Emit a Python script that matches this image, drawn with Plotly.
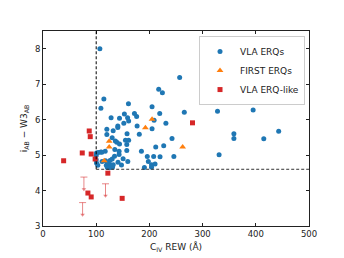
import plotly.graph_objects as go

# VLA ERQs
vla_x = [106.9, 108.8, 114.4, 256.9, 217.5, 224.4, 310, 328, 395, 160.6, 205, 128, 143.8, 153, 171.9,
         176, 159, 161, 151.9, 219.4, 208.8, 231, 265.6, 140.6, 140.6, 176.9, 120, 131.9, 120, 158,
         181, 205, 130, 136, 138.8, 143.8, 155, 161, 157.5, 242.5, 358.8, 358.8, 415, 443, 226.9,
         211.9, 135, 143, 157.5, 116.9, 100.6, 104, 108.8, 110.6, 185, 331, 143, 134.4, 150.6, 159.4,
         141, 147.5, 196, 208, 220, 246, 198, 190.6, 204, 210.6, 204, 100, 100, 100.6, 103, 111,
         117.5, 119, 123, 126, 128, 130.6, 121, 125, 132, 130]
vla_y = [8.0, 6.32, 6.58, 7.19, 6.86, 6.76, 6.78, 6.24, 6.27, 6.45, 6.36, 6.05, 6.04, 6.16, 6.17,
         6.09, 6.05, 5.96, 5.90, 6.17, 5.98, 5.90, 6.21, 5.82, 5.78, 5.82, 5.73, 5.69, 5.58, 5.60,
         5.59, 5.74, 5.49, 5.40, 5.36, 5.31, 5.42, 5.42, 5.30, 5.47, 5.60, 5.47, 5.46, 5.67, 5.26,
         5.23, 5.16, 5.11, 5.13, 5.11, 5.06, 5.07, 5.09, 5.08, 5.11, 5.01, 5.02, 4.97, 4.90, 4.82,
         4.80, 4.72, 4.96, 4.96, 4.95, 4.96, 4.82, 4.65, 4.73, 4.75, 4.66, 4.99, 4.87, 4.78, 4.71, 4.82,
         4.84, 4.71, 4.76, 4.85, 4.71, 4.66, 4.65, 4.64, 4.73, 4.89]

# FIRST ERQs
first_x = [300.6, 205, 192.5, 124.4, 124.4, 262.5, 115]
first_y = [6.73, 6.01, 5.77, 5.39, 5.23, 5.23, 4.84]

# VLA ERQ-like
like_x = [38.8, 73.8, 86.9, 88.8, 90.6, 98, 121.9, 281, 84.4, 90.6, 148.8]
like_y = [4.84, 5.06, 5.68, 5.52, 5.03, 4.89, 4.49, 5.91, 3.93, 3.82, 3.78]

# VLA ERQ-like upper limits
lim_x = [76.9, 117.5, 74.4]
lim_y = [4.38, 4.19, 3.66]
ARROW = 0.34

# selection thresholds
REW_CUT = 100
COLOR_CUT = 4.6

BLUE = "#1f77b4"
ORANGE = "#ff7f0e"
RED = "#d62728"
LIMC = "rgba(214,39,40,0.55)"

fig = go.Figure()

fig.add_trace(go.Scatter(
    x=lim_x, y=lim_y, mode="markers", showlegend=False,
    marker=dict(symbol="line-ew", size=5, color=LIMC, line=dict(color=LIMC, width=1)),
    error_y=dict(type="data", symmetric=False, array=[0] * len(lim_y),
                 arrayminus=[ARROW] * len(lim_y), color=LIMC, thickness=1, width=0)))
fig.add_trace(go.Scatter(
    x=lim_x, y=[v - ARROW for v in lim_y], mode="markers", showlegend=False,
    marker=dict(symbol="triangle-down", size=4, color=LIMC)))

fig.add_trace(go.Scatter(x=vla_x, y=vla_y, mode="markers", name="VLA ERQs",
                         marker=dict(symbol="circle", size=5, color=BLUE)))
fig.add_trace(go.Scatter(x=first_x, y=first_y, mode="markers", name="FIRST ERQs",
                         marker=dict(symbol="triangle-up", size=6, color=ORANGE)))
fig.add_trace(go.Scatter(x=like_x, y=like_y, mode="markers", name="VLA ERQ-like",
                         marker=dict(symbol="square", size=5, color=RED)))

fig.add_shape(type="line", xref="x", yref="y", x0=REW_CUT, x1=REW_CUT, y0=COLOR_CUT, y1=8.5,
              line=dict(color="black", width=1, dash="3px,2px"))
fig.add_shape(type="line", xref="x", yref="y", x0=REW_CUT, x1=500, y0=COLOR_CUT, y1=COLOR_CUT,
              line=dict(color="#333", width=1, dash="3px,2px"))

axis_common = dict(showgrid=False, zeroline=False, showline=True, linecolor="#222", linewidth=1,
                   mirror="ticks", ticks="inside", ticklen=3, tickcolor="#222", automargin=False,
                   tickfont=dict(family="DejaVu Sans", size=8.5, color="#222"))

# page body has an 8px margin; figure size/margins compensate so the plot area
# lands at the same window position as the reference
fig.update_layout(
    width=336, height=250,
    margin=dict(l=35, r=35, t=23, b=32),
    paper_bgcolor="white", plot_bgcolor="white",
    font=dict(family="DejaVu Sans", size=9, color="#222"),
    xaxis=dict(range=[0, 500], tickvals=[0, 100, 200, 300, 400, 500],
               title=dict(text="C<sub>IV</sub> REW (Å)", standoff=5, font=dict(size=9)), **axis_common),
    yaxis=dict(range=[3, 8.5], tickvals=[3, 4, 5, 6, 7, 8],
               title=dict(text="i<sub>AB</sub> − W3<sub>AB</sub>", standoff=5, font=dict(size=9)), **axis_common),
    legend=dict(x=0.985, y=0.974, xanchor="right", yanchor="top", bgcolor="white",
                bordercolor="#ccc", borderwidth=1, font=dict(size=9), itemwidth=30,
                tracegroupgap=0),
)

fig.write_html("out.html")
